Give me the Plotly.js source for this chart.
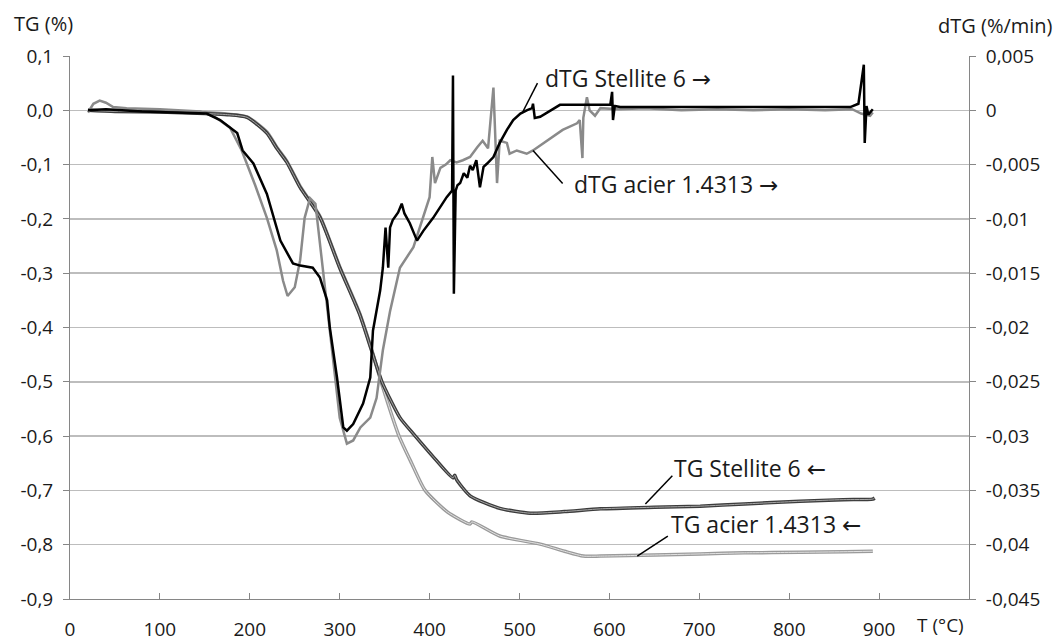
<!DOCTYPE html>
<html><head><meta charset="utf-8">
<script src="https://cdn.plot.ly/plotly-3.0.1.min.js"></script>
<style>html,body{margin:0;padding:0;background:#fff}#chart{width:1057px;height:643px}</style>
</head><body><div id="chart"></div>
<script>
// Temperature (°C) and TG (%) — TG Stellite 6
const tgStelliteT = [20,50,100,150,175,197,219,230,241,256,278,300,322,335,347,367,382,405,426,428,430,445,478,512,550,590,650,701,750,812,860,893,895];
const tgStelliteV = [0.000,-0.002,-0.003,-0.006,-0.008,-0.013,-0.042,-0.070,-0.095,-0.142,-0.197,-0.290,-0.375,-0.440,-0.500,-0.566,-0.596,-0.640,-0.677,-0.672,-0.680,-0.710,-0.733,-0.742,-0.739,-0.734,-0.731,-0.729,-0.725,-0.720,-0.717,-0.716,-0.714];
// TG acier 1.4313
const tgAcierT = [20,50,100,150,175,197,219,230,241,256,278,300,322,335,347,366,380,395,420,445,447,478,523,550,571,590,650,701,750,812,860,893];
const tgAcierV = [0.000,-0.001,-0.002,-0.004,-0.007,-0.012,-0.040,-0.068,-0.093,-0.140,-0.195,-0.288,-0.373,-0.438,-0.505,-0.600,-0.650,-0.700,-0.740,-0.762,-0.758,-0.784,-0.799,-0.812,-0.821,-0.821,-0.819,-0.817,-0.815,-0.814,-0.813,-0.812];
// dTG Stellite 6 (%/min)
const dtgStelliteT = [20,40,80,120,152,167,186,192,204,219,234,248,256,270,278,286,289,297,304,308,315,326,334,337,345,348,351,354,356,359,365,369,372,378,386,393,404,419,425,426,427,429,431,434,438,442,445,448,452,456,460,464,471,478,486,493,501,508,514,515,517,523,545,601,603,604,606,612,650,701,750,812,868,877,883,884,886,888,890,893];
const dtgStelliteV = [0.0000,0.0001,-0.0001,-0.0002,-0.0003,-0.0009,-0.0021,-0.0037,-0.0049,-0.0077,-0.0120,-0.0141,-0.0143,-0.0145,-0.0154,-0.0175,-0.0200,-0.0246,-0.0292,-0.0295,-0.0289,-0.0270,-0.0246,-0.0203,-0.0166,-0.0145,-0.0108,-0.0145,-0.0108,-0.0101,-0.0094,-0.0086,-0.0095,-0.0104,-0.0120,-0.0111,-0.0099,-0.0080,-0.0074,0.0032,-0.0169,-0.0074,-0.0069,-0.0067,-0.0058,-0.0062,-0.0051,-0.0055,-0.0046,-0.0071,-0.0052,-0.0049,-0.0043,-0.0030,-0.0018,-0.0009,-0.0003,0.0000,0.0002,0.0006,-0.0007,-0.0006,0.0005,0.0005,0.0017,-0.0009,0.0004,0.0003,0.0003,0.0003,0.0003,0.0003,0.0003,0.0006,0.0042,-0.0030,0.0004,-0.0004,-0.0002,0.0001];
// dTG acier 1.4313 (%/min)
const dtgAcierT = [20,26,33,40,48,63,100,145,161,178,191,206,219,230,237,242,250,256,261,267,273,278,286,293,300,308,315,323,334,341,348,356,367,382,392,400,403,406,412,418,423,430,437,445,453,459,465,471,475,478,486,489,497,508,515,531,548,564,567,570,571,575,578,584,590,610,640,680,720,760,800,840,870,880,890,893];
const dtgAcierV = [-0.0002,0.0006,0.0009,0.0007,0.0003,0.0002,0.0001,-0.0001,-0.0006,-0.0016,-0.0037,-0.0069,-0.0099,-0.0129,-0.0157,-0.0171,-0.0163,-0.0138,-0.0099,-0.0081,-0.0086,-0.0123,-0.0185,-0.0237,-0.0283,-0.0307,-0.0304,-0.0292,-0.0283,-0.0265,-0.0221,-0.0185,-0.0145,-0.0126,-0.0101,-0.0080,-0.0043,-0.0067,-0.0053,-0.0050,-0.0046,-0.0048,-0.0046,-0.0043,-0.0034,-0.0028,-0.0035,0.0021,-0.0067,-0.0028,-0.0030,-0.0040,-0.0037,-0.0040,-0.0037,-0.0028,-0.0018,-0.0012,-0.0009,-0.0044,-0.0007,0.0012,0.0000,-0.0005,0.0002,0.0001,0.0002,0.0000,0.0001,0.0000,0.0001,0.0000,0.0001,-0.0003,-0.0005,-0.0002];

const xTickVals = [0,100,200,300,400,500,600,700,800,900];
const xTickText = ['0','100','200','300','400','500','600','700','800','900'];
const yTickVals = [0.1,0,-0.1,-0.2,-0.3,-0.4,-0.5,-0.6,-0.7,-0.8,-0.9];
const yTickText = ['0,1','0,0','-0,1','-0,2','-0,3','-0,4','-0,5','-0,6','-0,7','-0,8','-0,9'];
const y2TickVals = [0.005,0,-0.005,-0.01,-0.015,-0.02,-0.025,-0.03,-0.035,-0.04,-0.045];
const y2TickText = ['0,005','0','-0,005','-0,01','-0,015','-0,02','-0,025','-0,03','-0,035','-0,04','-0,045'];

const FONT = 'Open Sans, Noto Sans, DejaVu Sans, sans-serif';
const TXT = '#1a1a1a';
const AX = '#868686';

const traces = [
  {x: dtgAcierT, y: dtgAcierV, yaxis: 'y2', mode: 'lines', line: {color: '#8a8a8a', width: 2.5}, hoverinfo: 'skip'},
  {x: dtgStelliteT, y: dtgStelliteV, yaxis: 'y2', mode: 'lines', line: {color: '#000000', width: 2.5}, hoverinfo: 'skip'},
  {x: tgAcierT, y: tgAcierV, mode: 'lines', line: {color: '#9a9a9a', width: 3.5, shape: 'spline', smoothing: 0.6}, hoverinfo: 'skip'},
  {x: tgAcierT, y: tgAcierV, mode: 'lines', line: {color: '#e2e2e2', width: 1, shape: 'spline', smoothing: 0.6}, hoverinfo: 'skip'},
  {x: tgStelliteT, y: tgStelliteV, mode: 'lines', line: {color: '#3c3c3c', width: 3.5, shape: 'spline', smoothing: 0.6}, hoverinfo: 'skip'},
  {x: tgStelliteT, y: tgStelliteV, mode: 'lines', line: {color: '#a8a8a8', width: 1, shape: 'spline', smoothing: 0.6}, hoverinfo: 'skip'}
];

const annFont = {family: FONT, size: 23, color: TXT};
const layout = {
  width: 1057, height: 643,
  margin: {l: 70, r: 88, t: 56, b: 44, pad: 0},
  paper_bgcolor: '#ffffff', plot_bgcolor: '#ffffff',
  showlegend: false,
  font: {family: FONT, size: 19, color: TXT},
  xaxis: {range: [0, 1000], tickvals: xTickVals, ticktext: xTickText, ticks: 'inside', ticklen: 6, tickcolor: AX, tickwidth: 1,
          showline: true, linecolor: AX, linewidth: 1, showgrid: false, zeroline: false, ticklabelstandoff: 13,
          tickfont: {family: FONT, size: 19, color: TXT}},
  yaxis: {range: [-0.9, 0.1], tickvals: yTickVals, ticktext: yTickText, ticks: 'outside', ticklen: 6, tickcolor: AX,
          showline: true, linecolor: AX, linewidth: 1, showgrid: true, gridcolor: '#bdbdbd', gridwidth: 1.5, zeroline: false,
          ticklabelstandoff: 6, tickfont: {family: FONT, size: 19, color: TXT}},
  yaxis2: {range: [-0.045, 0.005], overlaying: 'y', side: 'right', tickvals: y2TickVals, ticktext: y2TickText, ticks: 'outside',
           ticklen: 6, tickcolor: AX, showline: true, linecolor: AX, linewidth: 1, showgrid: false, zeroline: false,
           ticklabelstandoff: 6, tickfont: {family: FONT, size: 19, color: TXT}},
  annotations: [
    {xref: 'paper', yref: 'paper', x: -0.064, y: 1.06, xanchor: 'left', yanchor: 'middle', text: 'TG (%)', showarrow: false, font: {family: FONT, size: 20, color: TXT}},
    {xref: 'paper', yref: 'paper', x: 1.096, y: 1.057, xanchor: 'right', yanchor: 'middle', text: 'dTG (%/min)', showarrow: false, font: {family: FONT, size: 20, color: TXT}},
    {xref: 'paper', yref: 'paper', x: 0.94, y: -0.048, xanchor: 'left', yanchor: 'middle', text: 'T (°C)', showarrow: false, font: {family: FONT, size: 19, color: TXT}},
    {xref: 'x', yref: 'y', x: 526, y: 0.059, xanchor: 'left', yanchor: 'middle', text: 'dTG Stellite 6 →', showarrow: false, font: annFont},
    {xref: 'x', yref: 'y', x: 558, y: -0.135, xanchor: 'left', yanchor: 'middle', text: 'dTG acier 1.4313 →', showarrow: false, font: annFont},
    {xref: 'x', yref: 'y', x: 670, y: -0.659, xanchor: 'left', yanchor: 'middle', text: 'TG Stellite 6 ←', showarrow: false, font: annFont},
    {xref: 'x', yref: 'y', x: 666, y: -0.762, xanchor: 'left', yanchor: 'middle', text: 'TG acier 1.4313 ←', showarrow: false, font: annFont}
  ],
  shapes: [
    {type: 'line', xref: 'x', yref: 'y', x0: 520, y0: 0.050, x1: 503, y1: -0.005, line: {color: '#000', width: 1.5}},
    {type: 'line', xref: 'x', yref: 'y', x0: 548, y0: -0.135, x1: 515, y1: -0.074, line: {color: '#000', width: 1.5}},
    {type: 'line', xref: 'x', yref: 'y', x0: 670, y0: -0.673, x1: 640, y1: -0.725, line: {color: '#000', width: 1.5}},
    {type: 'line', xref: 'x', yref: 'y', x0: 665, y0: -0.784, x1: 631, y1: -0.821, line: {color: '#000', width: 1.5}}
  ]
};
Plotly.newPlot('chart', traces, layout, {staticPlot: true, displayModeBar: false});
</script></body></html>
